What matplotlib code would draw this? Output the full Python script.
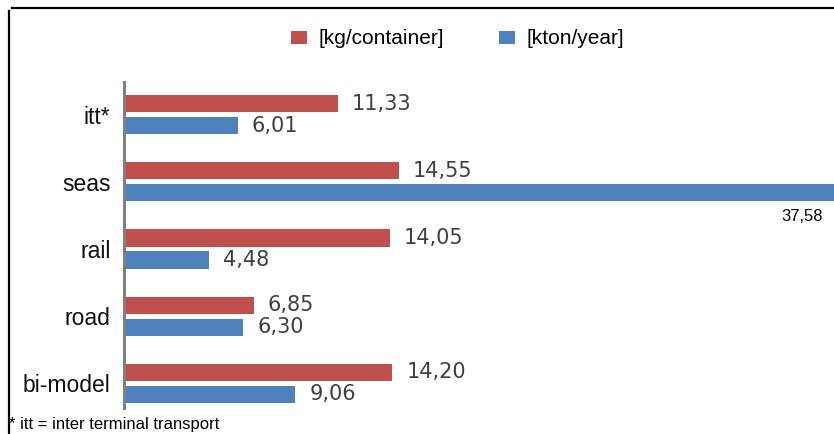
import matplotlib
matplotlib.use("Agg")
import matplotlib.pyplot as plt
import numpy as np
from matplotlib.patches import Patch
from matplotlib.lines import Line2D

categories = ["itt*", "seas", "rail", "road", "bi-model"]
kg_per_container = [11.33, 14.55, 14.05, 6.85, 14.20]
kton_per_year = [6.01, 37.58, 4.48, 6.30, 9.06]
series_names = ["[kg/container]", "[kton/year]"]
footnote = "* itt = inter terminal transport"

RED = "#C0504D"
BLUE = "#4F81BD"
XMAX = 37.6

def fmt(v):
    return f"{v:.2f}".replace(".", ",")

fig = plt.figure(figsize=(8.34, 4.34), dpi=100)
ax = fig.add_axes([124.5 / 834, 1 - 408 / 434, 1 - 124.5 / 834, (408 - 82) / 434])

y = np.arange(len(categories))
h = 0.254
off = 0.164
ax.barh(y - off, kg_per_container, height=h, color=RED, zorder=2)
ax.barh(y + off, kton_per_year, height=h, color=BLUE, zorder=2)

ax.set_xlim(0, XMAX)
ax.set_ylim(len(categories) - 1 + 0.366, -0.485)
ax.set_yticks(y)
ax.set_yticklabels(categories, fontsize=16.5, family="Liberation Sans", color="#111111")
ax.tick_params(axis="y", length=0, pad=10)
ax.set_xticks([])
for s in ["top", "right", "bottom"]:
    ax.spines[s].set_visible(False)
ax.spines["left"].set_color("#808080")
ax.spines["left"].set_linewidth(2.2)
ax.spines["left"].set_zorder(3)

lab_kw = dict(fontsize=15, family="DejaVu Sans", color="#404040", va="center", ha="left")
for yi, v in zip(y, kg_per_container):
    ax.annotate(fmt(v), (v, yi - off), xytext=(10, 0), textcoords="offset points", **lab_kw)
for yi, v in zip(y, kton_per_year):
    if v > XMAX * 0.95:
        ax.annotate(fmt(v), (XMAX, yi + off), xytext=(-8, -17), textcoords="offset points",
                    fontsize=12, family="Liberation Sans", color="black", ha="right", va="center")
    else:
        ax.annotate(fmt(v), (v, yi + off), xytext=(10, 0), textcoords="offset points", **lab_kw)

handles = [Patch(facecolor=RED, edgecolor="none"), Patch(facecolor=BLUE, edgecolor="none")]
fig.legend(handles, series_names, loc="center", bbox_to_anchor=(457.5 / 834, 1 - 39 / 434),
           ncol=2, frameon=False, prop={"family": "Liberation Sans", "size": 15},
           handlelength=0.8, handleheight=0.6, handletextpad=0.55, columnspacing=2.6,
           borderpad=0, borderaxespad=0)

fig.text(9 / 834, 1 - 424 / 434, footnote, fontsize=12, family="Liberation Sans",
         color="black", ha="left", va="center")

# frame lines
fig.add_artist(Line2D([12 / 834, 1], [1 - 7.5 / 434, 1 - 7.5 / 434], color="black", lw=1.6,
                      transform=fig.transFigure))
fig.add_artist(Line2D([8.5 / 834, 8.5 / 834], [1 - 11 / 434, 0], color="black", lw=1.6,
                      transform=fig.transFigure))

fig.savefig("out.png", dpi=100)
